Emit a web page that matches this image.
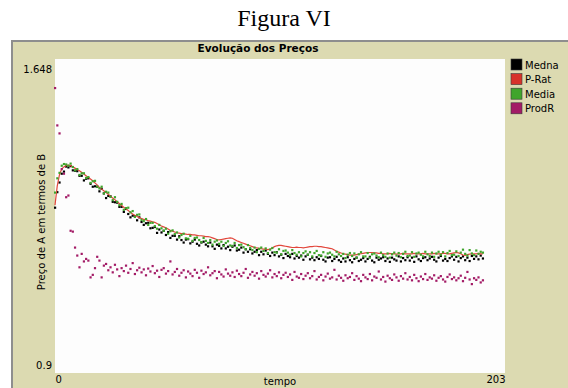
<!DOCTYPE html>
<html>
<head>
<meta charset="utf-8">
<script src="https://cdn.jsdelivr.net/npm/d3@7"></script>
<style>
	body { margin: 0; background: #fff; }
	svg { display: block; }
</style>
</head>
<body>
<div id="chart"></div>
<script>
// Series names, legend order
const penNames = ['Medna', 'P-Rat', 'Media', 'ProdR'];
const penColors = ['#000000', '#d7322a', '#3fa52c', '#a31b66'];

// Axis labels
const xTicks = [0, 203];
const yTicks = [0.9, 1.648];

// one value per tick (tempo = index)
const medna = [
	1.294, 1.331, 1.354, 1.375, 1.380, 1.392, 1.390, 1.393, 1.383, 1.382,
	1.381, 1.370, 1.370, 1.359, 1.363, 1.364, 1.351, 1.344, 1.345, 1.344,
	1.333, 1.339, 1.328, 1.317, 1.322, 1.321, 1.308, 1.307, 1.306, 1.296,
	1.296, 1.284, 1.291, 1.279, 1.271, 1.275, 1.274, 1.264, 1.271, 1.260,
	1.253, 1.257, 1.258, 1.245, 1.246, 1.248, 1.234, 1.242, 1.235, 1.239,
	1.229, 1.236, 1.222, 1.227, 1.227, 1.218, 1.226, 1.217, 1.211, 1.218,
	1.219, 1.209, 1.213, 1.218, 1.208, 1.204, 1.211, 1.213, 1.206, 1.202,
	1.211, 1.202, 1.196, 1.206, 1.203, 1.197, 1.205, 1.197, 1.201, 1.193,
	1.201, 1.204, 1.192, 1.194, 1.199, 1.187, 1.195, 1.189, 1.195, 1.185,
	1.189, 1.193, 1.181, 1.189, 1.183, 1.192, 1.184, 1.179, 1.187, 1.181,
	1.188, 1.178, 1.182, 1.174, 1.184, 1.179, 1.176, 1.184, 1.173, 1.179,
	1.175, 1.180, 1.170, 1.178, 1.182, 1.171, 1.175, 1.169, 1.176, 1.172,
	1.179, 1.170, 1.166, 1.175, 1.176, 1.167, 1.172, 1.177, 1.169, 1.165,
	1.173, 1.166, 1.176, 1.169, 1.164, 1.172, 1.175, 1.167, 1.170, 1.174,
	1.166, 1.172, 1.177, 1.168, 1.164, 1.175, 1.170, 1.173, 1.176, 1.167,
	1.173, 1.165, 1.175, 1.171, 1.168, 1.178, 1.166, 1.174, 1.169, 1.176,
	1.168, 1.175, 1.165, 1.178, 1.171, 1.167, 1.174, 1.176, 1.169, 1.173,
	1.177, 1.170, 1.166, 1.175, 1.179, 1.168, 1.172, 1.167, 1.174, 1.178,
	1.170, 1.177, 1.166, 1.174, 1.178, 1.169, 1.175, 1.167, 1.179, 1.172,
	1.178, 1.171, 1.180, 1.173
];
const pRat = [
	1.300, 1.345, 1.372, 1.386, 1.391, 1.394, 1.395, 1.394, 1.391, 1.388,
	1.385, 1.382, 1.378, 1.374, 1.370, 1.366, 1.362, 1.358, 1.353, 1.348,
	1.342, 1.338, 1.334, 1.330, 1.326, 1.321, 1.317, 1.313, 1.308, 1.304,
	1.299, 1.295, 1.291, 1.287, 1.283, 1.279, 1.276, 1.273, 1.270, 1.268,
	1.266, 1.265, 1.263, 1.262, 1.260, 1.259, 1.256, 1.253, 1.250, 1.248,
	1.246, 1.243, 1.240, 1.238, 1.236, 1.234, 1.233, 1.232, 1.232, 1.231,
	1.230, 1.230, 1.229, 1.229, 1.228, 1.227, 1.227, 1.226, 1.225, 1.225,
	1.224, 1.222, 1.220, 1.218, 1.217, 1.218, 1.219, 1.220, 1.221, 1.222,
	1.221, 1.218, 1.215, 1.213, 1.211, 1.209, 1.207, 1.205, 1.203, 1.201,
	1.199, 1.198, 1.197, 1.196, 1.195, 1.195, 1.194, 1.195, 1.198, 1.201,
	1.203, 1.204, 1.204, 1.203, 1.202, 1.201, 1.200, 1.199, 1.199, 1.200,
	1.199, 1.199, 1.198, 1.199, 1.200, 1.201, 1.201, 1.202, 1.202, 1.201,
	1.201, 1.200, 1.199, 1.198, 1.197, 1.196, 1.193, 1.190, 1.188, 1.186,
	1.184, 1.183, 1.182, 1.181, 1.181, 1.181, 1.182, 1.183, 1.184, 1.185,
	1.186, 1.187, 1.187, 1.187, 1.186, 1.186, 1.185, 1.185, 1.184, 1.184,
	1.184, 1.185, 1.184, 1.184, 1.183, 1.184, 1.184, 1.185, 1.184, 1.184,
	1.184, 1.184, 1.185, 1.184, 1.184, 1.184, 1.185, 1.184, 1.184, 1.184,
	1.184, 1.185, 1.184, 1.184, 1.184, 1.185, 1.185, 1.184, 1.184, 1.185,
	1.186, 1.187, 1.186, 1.184, 1.181, 1.180, 1.182, 1.183, 1.184, 1.184,
	1.184, 1.185, 1.184, 1.184
];
const media = [
	1.330, 1.364, 1.377, 1.394, 1.398, 1.397, 1.394, 1.399, 1.391, 1.383,
	1.386, 1.372, 1.376, 1.376, 1.365, 1.367, 1.353, 1.357, 1.358, 1.344,
	1.340, 1.344, 1.328, 1.332, 1.330, 1.320, 1.312, 1.319, 1.308, 1.300,
	1.303, 1.289, 1.293, 1.294, 1.283, 1.286, 1.272, 1.277, 1.278, 1.265,
	1.262, 1.267, 1.253, 1.258, 1.258, 1.250, 1.244, 1.253, 1.245, 1.239,
	1.244, 1.232, 1.238, 1.240, 1.231, 1.235, 1.223, 1.229, 1.232, 1.221,
	1.220, 1.227, 1.215, 1.222, 1.223, 1.217, 1.212, 1.222, 1.215, 1.210,
	1.217, 1.206, 1.213, 1.216, 1.208, 1.213, 1.203, 1.210, 1.214, 1.204,
	1.203, 1.210, 1.198, 1.205, 1.206, 1.200, 1.195, 1.205, 1.198, 1.193,
	1.199, 1.188, 1.196, 1.199, 1.191, 1.197, 1.186, 1.194, 1.198, 1.188,
	1.187, 1.195, 1.183, 1.191, 1.192, 1.187, 1.182, 1.193, 1.186, 1.182,
	1.188, 1.178, 1.186, 1.190, 1.182, 1.188, 1.178, 1.186, 1.191, 1.181,
	1.180, 1.188, 1.177, 1.185, 1.187, 1.182, 1.178, 1.189, 1.183, 1.179,
	1.184, 1.174, 1.182, 1.186, 1.179, 1.185, 1.175, 1.183, 1.188, 1.178,
	1.178, 1.186, 1.175, 1.183, 1.185, 1.180, 1.176, 1.187, 1.181, 1.177,
	1.185, 1.175, 1.183, 1.187, 1.180, 1.186, 1.176, 1.184, 1.189, 1.179,
	1.180, 1.188, 1.177, 1.185, 1.187, 1.182, 1.178, 1.189, 1.183, 1.179,
	1.187, 1.177, 1.185, 1.189, 1.182, 1.188, 1.178, 1.186, 1.191, 1.181,
	1.182, 1.190, 1.179, 1.187, 1.194, 1.184, 1.180, 1.193, 1.185, 1.181,
	1.192, 1.184, 1.189, 1.187
];
const prodR = [
	1.579, 1.490, 1.471, 1.386, 1.375, 1.319, 1.323, 1.239, 1.237, 1.199,
	1.180, 1.152, 1.184, 1.166, 1.172, 1.168, 1.128, 1.134, 1.150, 1.177,
	1.168, 1.128, 1.156, 1.160, 1.145, 1.152, 1.140, 1.158, 1.147, 1.131,
	1.150, 1.143, 1.156, 1.139, 1.148, 1.162, 1.136, 1.145, 1.151, 1.140,
	1.147, 1.133, 1.149, 1.142, 1.155, 1.138, 1.144, 1.129, 1.146, 1.150,
	1.137, 1.143, 1.166, 1.135, 1.141, 1.148, 1.132, 1.139, 1.145, 1.128,
	1.142, 1.137, 1.131, 1.146, 1.139, 1.127, 1.144, 1.136, 1.140, 1.152,
	1.133, 1.138, 1.143, 1.126, 1.141, 1.135, 1.130, 1.147, 1.137, 1.132,
	1.140, 1.129, 1.144, 1.136, 1.131, 1.139, 1.148, 1.127, 1.135, 1.141,
	1.132, 1.138, 1.125, 1.143, 1.134, 1.130, 1.137, 1.145, 1.128, 1.136,
	1.131, 1.140, 1.126, 1.134, 1.139, 1.129, 1.135, 1.122, 1.141, 1.130,
	1.127, 1.136, 1.124, 1.132, 1.138, 1.126, 1.131, 1.143, 1.123, 1.129,
	1.134, 1.121, 1.130, 1.137, 1.125, 1.128, 1.146, 1.123, 1.132, 1.127,
	1.120, 1.133, 1.126, 1.129, 1.138, 1.122, 1.131, 1.125, 1.119, 1.134,
	1.128, 1.124, 1.136, 1.121, 1.130, 1.127, 1.142, 1.123, 1.129, 1.118,
	1.132, 1.126, 1.122, 1.135, 1.128, 1.120, 1.131, 1.125, 1.138, 1.123,
	1.129, 1.121, 1.134, 1.126, 1.119, 1.130, 1.124, 1.136, 1.122, 1.128,
	1.125, 1.133, 1.120, 1.127, 1.131, 1.123, 1.118, 1.129, 1.135, 1.124,
	1.128, 1.121, 1.126, 1.132, 1.119, 1.127, 1.141, 1.123, 1.112, 1.126,
	1.122, 1.128, 1.116, 1.121
];

const width = 568, height = 388;
const plot = { left: 55, right: 505, top: 59, bottom: 373 };
const panelBg = '#dcdab1';
const uiFont = 'Tahoma, "DejaVu Sans", sans-serif';

const svg = d3
	.select('#chart')
	.append('svg')
	.attr('width', width)
	.attr('height', height);

// Figure caption
svg
	.append('text')
	.attr('x', 284)
	.attr('y', 26)
	.attr('text-anchor', 'middle')
	.attr('font-family', '"Liberation Serif", "Times New Roman", serif')
	.attr('font-size', 24)
	.text('Figura VI');

// Plot widget panel
svg
	.append('rect')
	.attr('x', 12)
	.attr('y', 41)
	.attr('width', width)
	.attr('height', height)
	.attr('fill', panelBg)
	.attr('stroke', '#8e8e8e')
	.attr('stroke-width', 2);

svg
	.append('text')
	.attr('x', 258)
	.attr('y', 52)
	.attr('text-anchor', 'middle')
	.attr('font-family', uiFont)
	.attr('font-weight', 'bold')
	.attr('font-size', 10.5)
	.text('Evolução dos Preços');

svg
	.append('rect')
	.attr('x', plot.left)
	.attr('y', plot.top)
	.attr('width', plot.right - plot.left)
	.attr('height', plot.bottom - plot.top)
	.attr('fill', '#fdfdfd');

// Scales
const x = d3
	.scaleLinear()
	.domain([0, 203])
	.range([plot.left, plot.right]);
const y = d3
	.scaleLinear()
	.domain([0.9, 1.648])
	.range([plot.bottom, plot.top]);

// Axes (labels only, NetLogo style)
const yAxis = d3
	.axisLeft(y)
	.tickValues(yTicks)
	.tickSize(0)
	.tickPadding(3)
	.tickFormat(d => String(d));
const gy = svg
	.append('g')
	.attr('transform', 'translate(' + plot.left + ',0)')
	.call(yAxis);
gy.select('.domain').remove();
gy.selectAll('text')
	.attr('font-family', uiFont)
	.attr('font-size', 10)
	.attr('fill', '#000')
	.attr('dy', d => (d === 0.9 ? '-0.45em' : '1.35em'));

const xAxis = d3
	.axisBottom(x)
	.tickValues(xTicks)
	.tickSize(0)
	.tickPadding(3)
	.tickFormat(d => String(d));
const gx = svg
	.append('g')
	.attr('transform', 'translate(0,' + plot.bottom + ')')
	.call(xAxis);
gx.select('.domain').remove();
gx.selectAll('text')
	.attr('font-family', uiFont)
	.attr('font-size', 10)
	.attr('fill', '#000')
	.attr('text-anchor', d => (d === 0 ? 'start' : 'end'));

svg
	.append('text')
	.attr('x', 280)
	.attr('y', 385)
	.attr('text-anchor', 'middle')
	.attr('font-family', uiFont)
	.attr('font-size', 10)
	.text('tempo');

svg
	.append('text')
	.attr('transform', 'translate(45,222) rotate(-90)')
	.attr('text-anchor', 'middle')
	.attr('font-family', uiFont)
	.attr('font-size', 10)
	.text('Preço de A em termos de B');

// Pens
const chart = svg.append('g').attr('class', 'pens');

const drawPoints = (values, color) => {
	chart
		.append('g')
		.selectAll('rect')
		.data(values)
		.enter()
		.append('rect')
		.attr('x', (d, i) => x(i) - 1)
		.attr('y', d => y(d) - 1)
		.attr('width', 2.2)
		.attr('height', 2.2)
		.attr('fill', color);
};

drawPoints(medna, penColors[0]);

const line = d3
	.line()
	.x((d, i) => x(i))
	.y(d => y(d));
chart
	.append('path')
	.datum(pRat)
	.attr('d', line)
	.attr('fill', 'none')
	.attr('stroke', '#e2463b')
	.attr('stroke-width', 1.2);

drawPoints(media, penColors[2]);
drawPoints(prodR, penColors[3]);

// Legend
const legend = svg
	.append('g')
	.selectAll('g')
	.data(penNames)
	.enter()
	.append('g')
	.attr('transform', (d, i) => 'translate(511,' + (59 + i * 14.6) + ')');
legend
	.append('rect')
	.attr('width', 11)
	.attr('height', 11)
	.attr('fill', (d, i) => penColors[i])
	.attr('stroke', '#3a3a3a')
	.attr('stroke-width', 0.6);
legend
	.append('text')
	.attr('x', 14)
	.attr('y', 9.5)
	.attr('font-family', uiFont)
	.attr('font-size', 10)
	.text(d => d);
</script>
</body>
</html>
